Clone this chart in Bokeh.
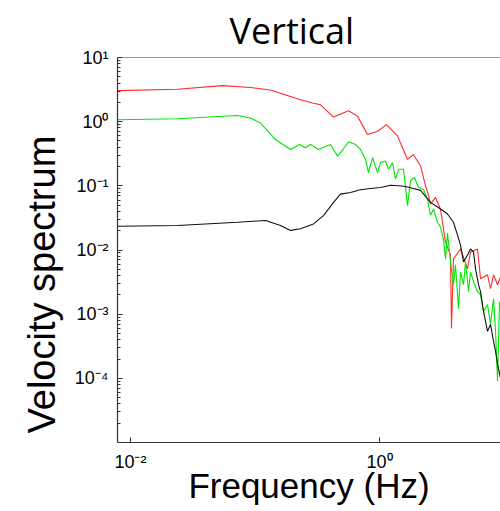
from bokeh.plotting import figure
from bokeh.models import FixedTicker, CustomJSTickFormatter, Span, Range1d, Title
from bokeh.embed import file_html
from bokeh.resources import INLINE

# ---- data ----
freq_red = [0.00787, 0.0239, 0.0548, 0.092, 0.133, 0.232, 0.295, 0.336, 0.427, 0.564,
            0.665, 0.801, 0.964, 1.138, 1.395, 1.678, 1.876, 2.135, 2.34, 2.475, 2.568,
            2.818, 3.09, 3.39, 3.717, 3.786, 3.928, 4.474, 5.093, 5.383, 6.128, 6.477,
            7.372, 7.792, 8.236, 8.869, 9.374]
spec_red = [3.05, 3.20, 3.65, 3.40, 3.12, 2.19, 1.94, 1.83, 1.18, 1.48,
            1.22, 0.629, 0.710, 0.898, 0.600, 0.258, 0.305, 0.206, 0.101, 0.0709, 0.052,
            0.066, 0.0431, 0.0133, 0.00838, 0.00060, 0.00726, 0.01038, 0.00508, 0.00931,
            0.01038, 0.00356, 0.0041, 0.00249, 0.0041, 0.00288, 0.00383]

freq_green = [0.00787, 0.0239, 0.0723, 0.092, 0.1107, 0.1462, 0.1928, 0.2276, 0.2545,
              0.2791, 0.3236, 0.404, 0.46, 0.514, 0.564, 0.641, 0.7035, 0.772, 0.816,
              0.879, 0.964, 1.019, 1.117, 1.181, 1.272, 1.344, 1.421, 1.559, 1.678,
              1.774, 1.910, 2.057, 2.255, 2.429, 2.568, 2.715, 2.924, 3.09, 3.266, 3.39,
              3.516, 3.717, 3.928, 4.077, 4.311, 4.474, 4.729, 4.907, 5.188, 5.383, 5.69,
              6.128, 6.477, 6.846, 7.372, 7.792, 8.236, 8.547, 8.869, 9.20]
spec_green = [1.07, 1.11, 1.25, 1.14, 0.953, 0.526, 0.369, 0.441, 0.392,
              0.441, 0.369, 0.441, 0.291, 0.378, 0.485, 0.441, 0.369, 0.258, 0.161,
              0.274, 0.161, 0.230, 0.244, 0.181, 0.230, 0.127, 0.181, 0.181, 0.0491,
              0.120, 0.135, 0.0942, 0.0877, 0.0615, 0.0348, 0.0431, 0.0271, 0.0227, 0.0148, 0.00726,
              0.0183, 0.00653, 0.00288, 0.00586, 0.00122, 0.00457, 0.00288, 0.00653, 0.00224, 0.00457, 0.0032,
              0.00224, 0.00201, 0.0011, 0.00141, 0.000692, 0.00175, 0.00054, 0.000091, 0.00157]

freq_black = [0.00787, 0.0239, 0.0723, 0.1214, 0.1603, 0.1928, 0.2318, 0.2951, 0.3551,
              0.4272, 0.4863, 0.5848, 0.7035, 0.8472, 1.019, 1.226, 1.421, 1.617, 1.876,
              2.135, 2.568, 3.09, 3.516, 3.928, 4.232, 4.474, 4.729, 5.093, 5.383, 5.69,
              5.905, 6.243, 6.477, 6.846, 7.104, 7.372, 7.792, 8.236, 8.547, 8.869, 9.374]
spec_black = [0.0235, 0.0241, 0.0271, 0.0288, 0.0241, 0.0202, 0.0214, 0.0255, 0.0344,
              0.0552, 0.0743, 0.0789, 0.0869, 0.091, 0.0942, 0.1023, 0.1002, 0.0977, 0.091,
              0.085, 0.0552, 0.0435, 0.0364, 0.0271, 0.0171, 0.0119, 0.00653, 0.00838, 0.0104, 0.00931,
              0.00508, 0.00288, 0.00224, 0.0011, 0.00077, 0.00054, 0.000692, 0.000378, 0.000265, 0.000167, 0.000101]

x_major = [0.01, 1.0]
y_major = [1e-4, 1e-3, 1e-2, 1e-1, 1e0, 1e1]
y_minor = [m * d for d in [1e-5, 1e-4, 1e-3, 1e-2, 1e-1, 1e0] for m in range(2, 10)]

p = figure(width=500, height=511, x_axis_type="log", y_axis_type="log",
           x_range=Range1d(0.00787, 9.37), y_range=Range1d(1e-5, 1e1),
           output_backend="svg", toolbar_location=None,
           min_border_left=117, min_border_right=0, min_border_top=54, min_border_bottom=69,
           title="Vertical")
p.background_fill_color = "white"
p.border_fill_color = "white"
p.outline_line_color = None
p.grid.visible = False

p.title.text_font = "Open Sans"
p.title.text_font_size = "36px"
p.title.text_font_style = "normal"
p.title.text_color = "black"
p.title.align = "left"
p.title.offset = 112
p.title.standoff = 6

p.line(freq_red, spec_red, line_color="#ff2a2a", line_width=1.1)
p.line(freq_green, spec_green, line_color="#00e600", line_width=1.1)
p.line(freq_black, spec_black, line_color="#111111", line_width=1.1)

p.add_layout(Span(location=10, dimension="width", line_color="#333333", line_width=1.2))

fmt = CustomJSTickFormatter(code="""
const sup = {'-':'\u207b','0':'\u2070','1':'\u00b9','2':'\u00b2','3':'\u00b3','4':'\u2074',
             '5':'\u2075','6':'\u2076','7':'\u2077','8':'\u2078','9':'\u2079'};
const e = String(Math.round(Math.log10(tick)));
return '10' + e.split('').map(c => sup[c]).join('');
""")

for ax in (p.xaxis[0], p.yaxis[0]):
    ax.formatter = fmt
    ax.axis_line_color = "#333333"
    ax.axis_line_width = 1.2
    ax.major_tick_line_color = "#333333"
    ax.minor_tick_line_color = "#333333"
    ax.major_tick_in = 5
    ax.major_tick_out = 0
    ax.minor_tick_in = 3
    ax.minor_tick_out = 0
    ax.major_label_text_font = "Liberation Sans"
    ax.major_label_text_font_size = "18px"
    ax.major_label_text_color = "black"
    ax.axis_label_text_font = "Liberation Sans"
    ax.axis_label_text_font_style = "normal"
    ax.axis_label_text_color = "black"

p.xaxis[0].ticker = FixedTicker(ticks=x_major, minor_ticks=[])
p.yaxis[0].ticker = FixedTicker(ticks=y_major, minor_ticks=y_minor)
p.xaxis[0].axis_label = "Frequency (Hz)"
p.xaxis[0].axis_label_text_font_size = "35px"
p.xaxis[0].major_label_standoff = 9
p.yaxis[0].major_label_standoff = 9
p.xaxis[0].axis_label_standoff = -9

ytitle = Title(text="Velocity spectrum", align="left", offset=9, standoff=17,
               text_font="Liberation Sans", text_font_size="38px",
               text_font_style="normal", text_color="black")
p.add_layout(ytitle, "left")

open("out.html", "w").write(file_html(p, INLINE))
